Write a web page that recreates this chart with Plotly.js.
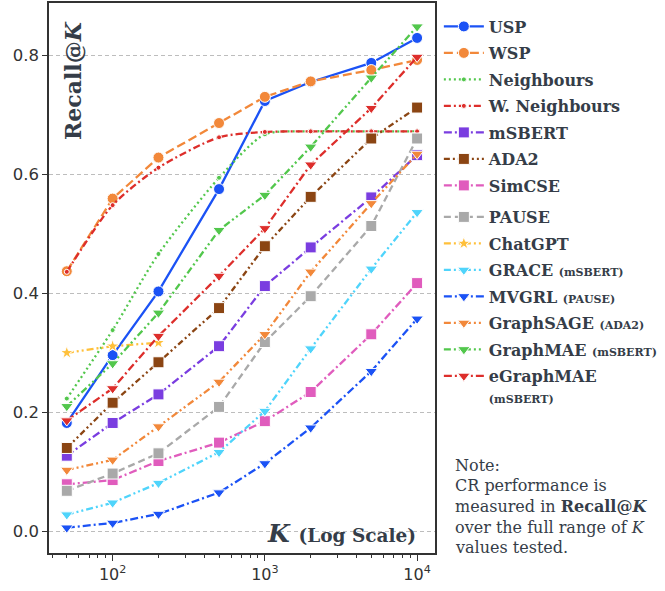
<!DOCTYPE html>
<html><head><meta charset="utf-8">
<script src="https://cdn.plot.ly/plotly-3.0.1.min.js"></script>
<style>html,body{margin:0;padding:0;background:#fff}#chart{width:665px;height:591px}</style>
</head><body><div id="chart"></div>
<script>
const K = [50, 100, 200, 500, 1000, 2000, 5000, 10000];
const K_chatgpt = [50, 100, 200];

const usp        = [0.182, 0.296, 0.403, 0.575, 0.723, 0.755, 0.787, 0.829];
const wsp        = [0.437, 0.559, 0.628, 0.686, 0.730, 0.756, 0.775, 0.792];
const neighbours = [0.223, 0.338, 0.466, 0.594, 0.667, 0.672, 0.672, 0.672];
const wNeighbours= [0.436, 0.548, 0.611, 0.662, 0.671, 0.672, 0.672, 0.672];
const msbert     = [0.127, 0.182, 0.230, 0.311, 0.412, 0.477, 0.561, 0.632];
const ada2       = [0.140, 0.216, 0.284, 0.375, 0.479, 0.562, 0.660, 0.712];
const simcse     = [0.079, 0.086, 0.118, 0.149, 0.185, 0.234, 0.331, 0.417];
const pause      = [0.068, 0.097, 0.131, 0.209, 0.318, 0.395, 0.513, 0.660];
const chatgpt    = [0.300, 0.311, 0.317];
const grace      = [0.028, 0.048, 0.081, 0.133, 0.202, 0.307, 0.441, 0.536];
const mvgrl      = [0.006, 0.014, 0.029, 0.065, 0.114, 0.174, 0.269, 0.357];
const graphsage  = [0.103, 0.120, 0.176, 0.251, 0.331, 0.436, 0.551, 0.634];
const graphmae   = [0.210, 0.282, 0.367, 0.506, 0.565, 0.646, 0.762, 0.848];
const egraphmae  = [0.186, 0.240, 0.328, 0.429, 0.509, 0.616, 0.711, 0.797];

const names = ['USP','WSP','Neighbours','W. Neighbours','mSBERT','ADA2','SimCSE',
  'PAUSE','ChatGPT',
  'GRACE <span style="font-size:11px">(mSBERT)</span>',
  'MVGRL <span style="font-size:11px">(PAUSE)</span>',
  'GraphSAGE <span style="font-size:11px">(ADA2)</span>',
  'GraphMAE <span style="font-size:11px">(mSBERT)</span>',
  'eGraphMAE<br><span style="font-size:11px">(mSBERT)</span>'];

const yTicks = [0, 0.2, 0.4, 0.6, 0.8];
const xTicks = [100, 1000, 10000];
const xTickText = ['10<sup>2</sup>', '10<sup>3</sup>', '10<sup>4</sup>'];
const noteLines = ['Note:', 'CR performance is', 'measured in <b>Recall@<i>K</i></b>',
  'over the full range of <i>K</i>', 'values tested.'];

const C = {blue:'#1b52f5', orange:'#f2883a', green:'#52c74c', red:'#dd2e2b', purple:'#7a3de0',
  brown:'#8b4513', pink:'#e05cbd', grey:'#a9a9a9', yellow:'#ffc03a', cyan:'#4fd4fb'};
const DASHDOT = '8px,3px,2px,3px';
const DASHDOTDOT = '7px,3px,2px,3px,2px,3px';

let gid = 0;
function tr(x, y, name, color, dash, symbol, size, legend, shape) {
  gid += 1;
  const line = {color: color, width: 2.3, dash: dash};
  if (shape) { line.shape = 'spline'; line.smoothing = 0.7; }
  return {x: x, y: y, name: name, type: 'scatter', mode: 'lines+markers',
    line: line, legendgroup: 'g' + gid,
    marker: {color: color, symbol: symbol, size: size, line: {color: '#ffffff', width: 1}},
    legend: legend};
}
const traces = [
  tr(K, usp, names[0], C.blue, 'solid', 'circle', 11, 'legend'),
  tr(K, wsp, names[1], C.orange, '9px,4px', 'circle', 11, 'legend'),
  tr(K, neighbours, names[2], C.green, '2px,3px', 'circle', 5, 'legend', true),
  tr(K, wNeighbours, names[3], C.red, '7px,3px,2px,3px', 'circle', 5, 'legend', true),
  tr(K, msbert, names[4], C.purple, DASHDOT, 'square', 11, 'legend'),
  tr(K, ada2, names[5], C.brown, '6px,3px,2px,3px,2px,3px', 'square', 11, 'legend'),
  tr(K, simcse, names[6], C.pink, DASHDOT, 'square', 11, 'legend'),
  tr(K, pause, names[7], C.grey, '7px,4px', 'square', 11, 'legend2'),
  tr(K_chatgpt, chatgpt, names[8], C.yellow, DASHDOTDOT, 'star', 10, 'legend2'),
  tr(K, grace, names[9], C.cyan, DASHDOTDOT, 'triangle-down', 11, 'legend2'),
  tr(K, mvgrl, names[10], C.blue, DASHDOT, 'triangle-down', 11, 'legend2'),
  tr(K, graphsage, names[11], C.orange, DASHDOTDOT, 'triangle-down', 11, 'legend2'),
  tr(K, graphmae, names[12], C.green, DASHDOTDOT, 'triangle-down', 11, 'legend2'),
  tr(K, egraphmae, names[13], C.red, DASHDOT, 'triangle-down', 11, 'legend2')
];

const minorVals = [];
[10, 100, 1000].forEach(function (d) { for (let m = 2; m <= 9; m++) minorVals.push(m * d); });

const textColor = '#353d48';
const annotations = [
  {text: '<b>Recall@<i>K</i></b>', textangle: -90, xref: 'paper', yref: 'paper',
   x: 0.062, y: (553 - 80) / 550, xanchor: 'center', yanchor: 'middle', showarrow: false,
   font: {family: 'DejaVu Serif', size: 22, color: textColor}},
  {text: '<b><i>K</i> <span style="font-size:18.5px">(Log Scale)</span></b>', xref: 'paper', yref: 'paper',
   x: 0.56, y: 0.036, xanchor: 'left', yanchor: 'middle', showarrow: false,
   font: {family: 'DejaVu Serif', size: 25, color: textColor}}
];
noteLines.forEach(function (s, i) {
  annotations.push({text: s, xref: 'paper', yref: 'paper', x: 1.046, xanchor: 'left',
    y: (553 - (465 + i * 20.7)) / 550, yanchor: 'middle', showarrow: false,
    font: {family: 'DejaVu Serif', size: 16, color: textColor}});
});

const legendFont = {family: 'DejaVu Serif', size: 16, color: textColor, weight: 'bold'};
const layout = {
  width: 665, height: 591,
  margin: {l: 49, r: 228, t: 3, b: 38},
  paper_bgcolor: '#ffffff', plot_bgcolor: '#ffffff',
  showlegend: true,
  xaxis: {type: 'log', range: [1.582, 4.1176], tickvals: xTicks, ticktext: xTickText,
    ticks: 'outside', ticklen: 6, tickwidth: 1.2, tickcolor: '#333',
    minor: {tickvals: minorVals, ticks: 'outside', ticklen: 3.5, tickwidth: 1, tickcolor: '#333'},
    showline: true, mirror: true, linecolor: '#333', linewidth: 1.5, showgrid: false, zeroline: false,
    tickfont: {family: 'DejaVu Sans', size: 16, color: '#333'}},
  yaxis: {range: [-0.0365, 0.8877], tickvals: yTicks, tickformat: '.1f',
    ticks: 'outside', ticklen: 5, tickwidth: 1.2, tickcolor: '#333',
    showline: true, mirror: true, linecolor: '#333', linewidth: 1.5,
    showgrid: true, gridcolor: '#bdbdbd', gridwidth: 1, griddash: '4px,3px', zeroline: false,
    tickfont: {family: 'DejaVu Sans', size: 16.5, color: '#333'}},
  legend: {x: 1.01, y: (553 - 9.5) / 550, xanchor: 'left', yanchor: 'top', bgcolor: 'rgba(0,0,0,0)',
    font: legendFont, itemwidth: 40, traceorder: 'grouped', tracegroupgap: 2.7},
  legend2: {x: 1.01, y: (553 - 200) / 550, xanchor: 'left', yanchor: 'top', bgcolor: 'rgba(0,0,0,0)',
    font: legendFont, itemwidth: 40, valign: 'top', traceorder: 'grouped', tracegroupgap: 2.7},
  annotations: annotations
};
Plotly.newPlot('chart', traces, layout, {displayModeBar: false, responsive: false});
</script>
</body></html>
